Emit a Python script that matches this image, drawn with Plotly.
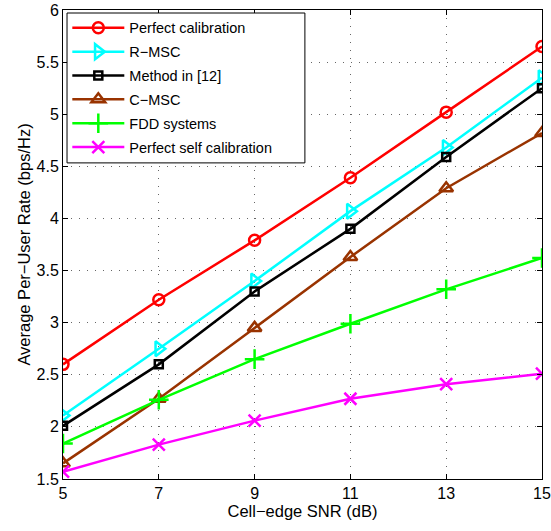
import plotly.graph_objects as go

snr = [5, 7, 9, 11, 13, 15]
perfect_cal = [2.60, 3.22, 3.79, 4.39, 5.02, 5.65]
r_msc = [2.11, 2.75, 3.40, 4.07, 4.68, 5.35]
method12 = [2.01, 2.60, 3.30, 3.90, 4.59, 5.25]
c_msc = [1.65, 2.27, 2.95, 3.63, 4.29, 4.82]
fdd = [1.84, 2.26, 2.65, 2.99, 3.32, 3.62]
perfect_self = [1.57, 1.83, 2.06, 2.27, 2.41, 2.51]

series = [
    ("Perfect calibration", perfect_cal, "#ff0000", "circle-open", 11),
    ("R\u2212MSC", r_msc, "#00ffff", "triangle-right-open", 13),
    ("Method in [12]", method12, "#000000", "square-open", 8),
    ("C\u2212MSC", c_msc, "#993300", "triangle-up-open", 12),
    ("FDD systems", fdd, "#00ff00", "cross-thin-open", 14),
    ("Perfect self calibration", perfect_self, "#ff00ff", "x-thin-open", 12),
]

fig = go.Figure()
for name, ys, col, sym, sz in series:
    fig.add_trace(go.Scatter(
        x=snr, y=ys, name=name, mode="lines+markers", legendgroup=name,
        line=dict(color=col, width=2.5),
        marker=dict(symbol=sym, size=sz, color=col, line=dict(color=col, width=2.5)),
    ))

axis_common = dict(
    showline=True, linecolor="black", linewidth=1, mirror="ticks",
    ticks="inside", ticklen=5, tickcolor="black",
    showgrid=True, gridcolor="#666666", griddash="1px,7px", gridwidth=1,
    zeroline=False, tickfont=dict(size=16, color="black"), automargin=False,
)
fig.update_xaxes(range=[5, 15], tickvals=snr, title=dict(text="Cell\u2212edge SNR (dB)", font=dict(size=16.5, color="black"), standoff=3), **axis_common)
fig.update_yaxes(range=[1.5, 6], dtick=0.5, title=dict(text="Average Per\u2212User Rate (bps/Hz)", font=dict(size=16.5, color="black"), standoff=1), **axis_common)

# legend frame (wider box, as in the original)
fig.add_shape(type="rect", xref="paper", yref="paper", layer="above",
              x0=0.0084, x1=0.505, y0=0.674, y1=0.9936,
              fillcolor="white", line=dict(color="black", width=1))

fig.update_layout(
    width=551, height=531,
    margin=dict(l=63, r=9, t=10, b=52),
    paper_bgcolor="white", plot_bgcolor="white",
    font=dict(family="Liberation Sans, Arial, sans-serif", color="black"),
    legend=dict(
        x=0.009, y=0.996, xanchor="left", yanchor="top",
        bgcolor="rgba(0,0,0,0)", borderwidth=0,
        font=dict(size=14.5, color="black"), itemwidth=52,
        tracegroupgap=2,
    ),
    showlegend=True,
)

fig.write_html("out.html")
